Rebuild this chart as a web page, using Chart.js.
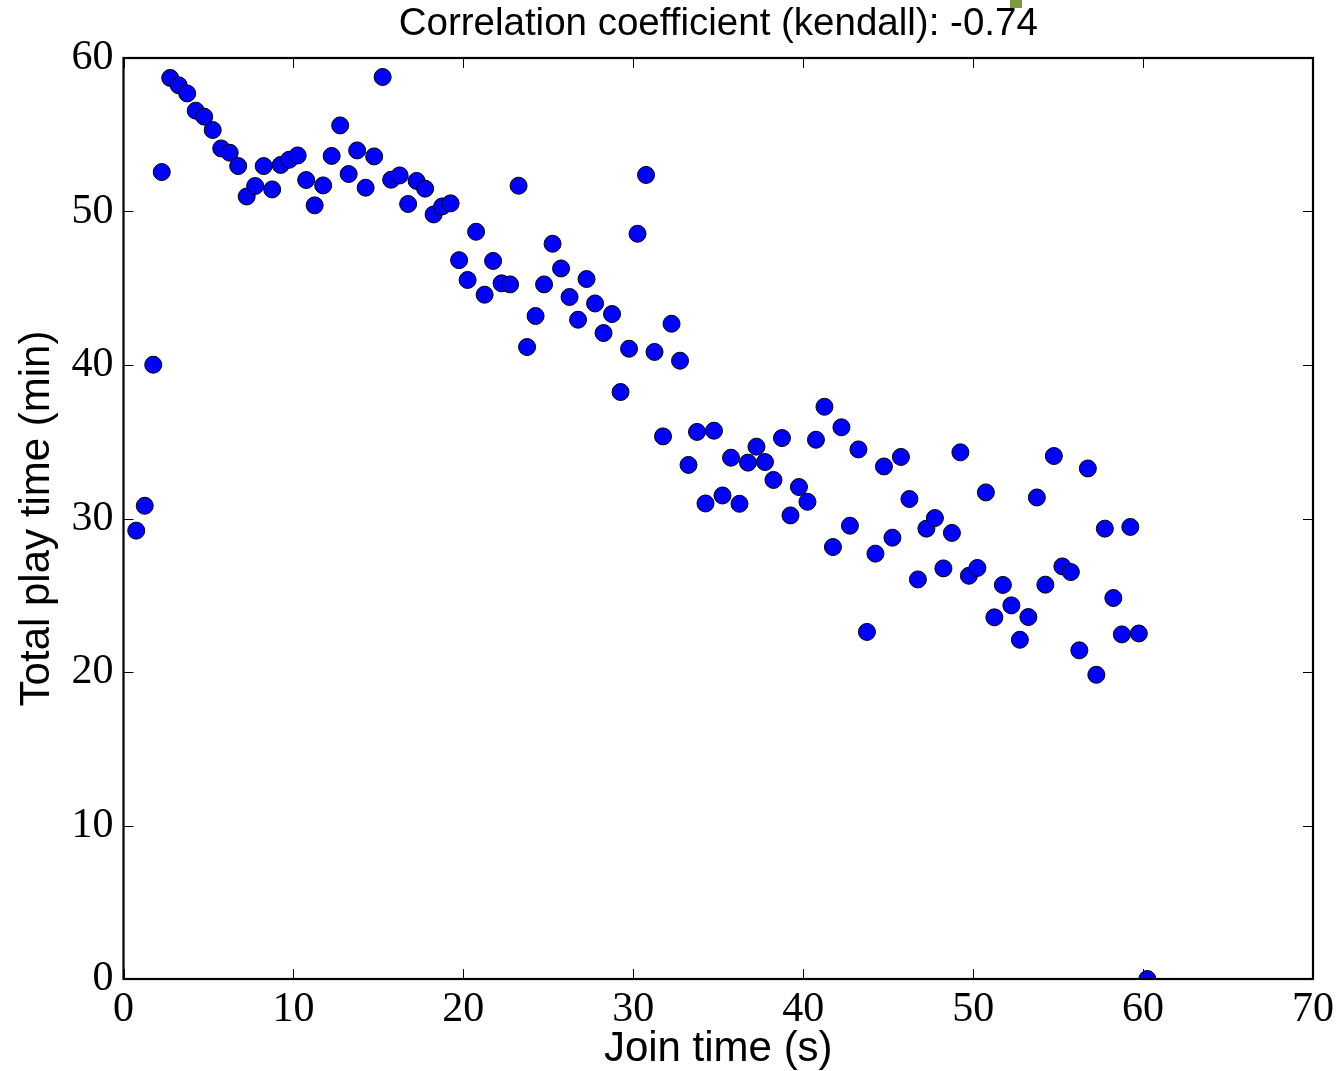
<!DOCTYPE html>
<html>
<head>
<meta charset="utf-8">
<script src="https://cdn.jsdelivr.net/npm/chart.js@4"></script>
<style>
  html, body { margin: 0; padding: 0; background: #ffffff; }
  #wrap { width: 1340px; height: 1071px; position: relative; }
</style>
</head>
<body>
<div id="wrap"><canvas id="scatterChart"></canvas></div>
<script>
const joinTimes = [
  0.75, 1.25, 1.75, 2.25, 2.75, 3.25, 3.75, 4.25, 4.75, 5.25,
  5.75, 6.25, 6.75, 7.25, 7.75, 8.25, 8.75, 9.25, 9.75, 10.25,
  10.75, 11.25, 11.75, 12.25, 12.75, 13.25, 13.75, 14.25, 14.75, 15.25,
  15.75, 16.25, 16.75, 17.25, 17.75, 18.25, 18.75, 19.25, 19.75, 20.25,
  20.75, 21.25, 21.75, 22.25, 22.75, 23.25, 23.75, 24.25, 24.75, 25.25,
  25.75, 26.25, 26.75, 27.25, 27.75, 28.25, 28.75, 29.25, 29.75, 30.25,
  30.75, 31.25, 31.75, 32.25, 32.75, 33.25, 33.75, 34.25, 34.75, 35.25,
  35.75, 36.25, 36.75, 37.25, 37.75, 38.25, 38.75, 39.25, 39.75, 40.25,
  40.75, 41.25, 41.75, 42.25, 42.75, 43.25, 43.75, 44.25, 44.75, 45.25,
  45.75, 46.25, 46.75, 47.25, 47.75, 48.25, 48.75, 49.25, 49.75, 50.25,
  50.75, 51.25, 51.75, 52.25, 52.75, 53.25, 53.75, 54.25, 54.75, 55.25,
  55.75, 56.25, 56.75, 57.25, 57.75, 58.25, 58.75, 59.25, 59.75, 60.25
];

const playTimes = [
  29.21, 30.83, 40.02, 52.57, 58.70, 58.22, 57.69, 56.57, 56.18, 55.31,
  54.11, 53.83, 52.96, 50.98, 51.66, 52.96, 51.44, 53.03, 53.37, 53.65,
  52.05, 50.40, 51.70, 53.62, 55.61, 52.44, 53.98, 51.55, 53.59, 58.76,
  52.07, 52.35, 50.49, 51.99, 51.49, 49.81, 50.33, 50.53, 46.83, 45.54,
  48.68, 44.58, 46.78, 45.32, 45.25, 51.68, 41.17, 43.19, 45.25, 47.90,
  46.29, 44.43, 42.95, 45.60, 44.01, 42.08, 43.32, 38.24, 41.06, 48.55,
  52.38, 40.85, 35.35, 42.69, 40.28, 33.49, 35.64, 30.98, 35.72, 31.50,
  33.96, 30.96, 33.64, 34.68, 33.68, 32.51, 35.24, 30.20, 32.05, 31.09,
  35.13, 37.28, 28.14, 35.94, 29.53, 34.50, 22.61, 27.71, 33.39, 28.75,
  34.01, 31.27, 26.03, 29.34, 30.03, 26.75, 29.06, 34.31, 26.27, 26.78,
  31.70, 23.56, 25.67, 24.34, 22.10, 23.58, 31.37, 25.69, 34.07, 26.88,
  26.51, 21.41, 33.26, 19.82, 29.34, 24.82, 22.45, 29.45, 22.51, 0
];

const xTicks = [0, 10, 20, 30, 40, 50, 60, 70];
const yTicks = [0, 10, 20, 30, 40, 50, 60];

const chartTitle = 'Correlation coefficient (kendall): -0.74';

const points = joinTimes.map((x, i) => ({ x, y: playTimes[i] }));

// matplotlib-style frame: full box plus inward ticks on every side
const frameAndTitle = {
  id: 'frameAndTitle',
  afterDatasetsDraw(chart) {
    const { ctx, chartArea: a, scales } = chart;
    ctx.save();
    ctx.strokeStyle = '#000000';
    ctx.lineWidth = 1;
    const tl = 10;
    xTicks.forEach((v) => {
      const px = Math.round(scales.x.getPixelForValue(v)) + 0.5;
      ctx.beginPath();
      ctx.moveTo(px, a.bottom); ctx.lineTo(px, a.bottom - tl);
      ctx.moveTo(px, a.top); ctx.lineTo(px, a.top + tl);
      ctx.stroke();
    });
    yTicks.forEach((v) => {
      const py = Math.round(scales.y.getPixelForValue(v)) + 0.5;
      ctx.beginPath();
      ctx.moveTo(a.left, py); ctx.lineTo(a.left + tl, py);
      ctx.moveTo(a.right, py); ctx.lineTo(a.right - tl, py);
      ctx.stroke();
    });
    ctx.lineWidth = 2.2;
    ctx.strokeRect(a.left, a.top, a.right - a.left, a.bottom - a.top);

    ctx.fillStyle = '#000000';
    ctx.font = '38.5px "Liberation Sans", Arial, sans-serif';
    ctx.textAlign = 'center';
    ctx.textBaseline = 'middle';
    ctx.fillText(chartTitle, (a.left + a.right) / 2, 24);

    // small clipped legend patch at the top edge
    ctx.fillStyle = '#7f9a3a';
    ctx.fillRect(1010, 0, 12, 8);
    ctx.restore();
  }
};

new Chart(document.getElementById('scatterChart'), {
  type: 'scatter',
  data: {
    datasets: [
      {
        data: points,
        backgroundColor: '#0000ff',
        borderColor: '#000000',
        borderWidth: 1,
        pointRadius: 8.5,
        pointHoverRadius: 8.5,
        clip: 0
      }
    ]
  },
  options: {
    responsive: true,
    maintainAspectRatio: false,
    animation: false,
    devicePixelRatio: 1,
    layout: {
      padding: { top: 58, right: 26, left: 0, bottom: 0 }
    },
    plugins: {
      legend: { display: false },
      tooltip: { enabled: false },
      title: { display: false }
    },
    scales: {
      x: {
        type: 'linear',
        min: 0,
        max: 70,
        afterBuildTicks: (scale) => { scale.ticks = xTicks.map((v) => ({ value: v })); },
        afterFit: (scale) => { scale.height = 92; },
        grid: { display: false, drawTicks: false },
        border: { display: false },
        ticks: {
          color: '#000000',
          padding: 6,
          maxRotation: 0,
          font: { family: '"Liberation Serif", "DejaVu Serif", serif', size: 42 }
        },
        title: {
          display: true,
          text: 'Join time (s)',
          color: '#000000',
          padding: { top: 0, bottom: -4 },
          font: { family: '"Liberation Sans", Arial, sans-serif', size: 42 }
        }
      },
      y: {
        type: 'linear',
        min: 0,
        max: 60,
        afterBuildTicks: (scale) => { scale.ticks = yTicks.map((v) => ({ value: v })); },
        afterFit: (scale) => { scale.width = 123.5; },
        grid: { display: false, drawTicks: false },
        border: { display: false },
        ticks: {
          color: '#000000',
          padding: 10,
          font: { family: '"Liberation Serif", "DejaVu Serif", serif', size: 42 }
        },
        title: {
          display: true,
          text: 'Total play time (min)',
          color: '#000000',
          padding: { top: 12, bottom: 0 },
          font: { family: '"Liberation Sans", Arial, sans-serif', size: 42 }
        }
      }
    }
  },
  plugins: [frameAndTitle]
});
</script>
</body>
</html>
